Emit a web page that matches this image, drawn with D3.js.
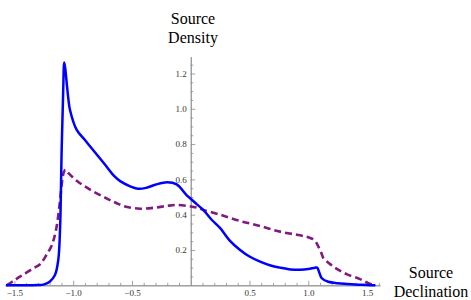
<!DOCTYPE html>
<html>
<head>
<meta charset="utf-8">
<script src="https://cdnjs.cloudflare.com/ajax/libs/d3/7.8.5/d3.min.js"></script>
<style>
  body { margin: 0; background: #fff; }
  svg text { font-family: "Liberation Serif", "Times New Roman", Times, "DejaVu Serif", serif; }
</style>
</head>
<body>
<svg id="drawing_region"></svg>
<script>
// solid blue curve: [declination, density]
const solid_x = [-1.571, -1.40, -1.30, -1.254, -1.20, -1.155, -1.127, -1.112, -1.098, -1.085, -1.076,
    -1.066, -1.055, -1.04, -1.027, -0.97, -0.90, -0.843, -0.78, -0.715, -0.65, -0.60, -0.52, -0.45,
    -0.38, -0.30, -0.20, -0.12, -0.034, 0.0, 0.05, 0.107, 0.18, 0.249, 0.33, 0.42, 0.50, 0.59, 0.68,
    0.76, 0.85, 0.93, 1.00, 1.058, 1.075, 1.095, 1.115, 1.17, 1.25, 1.33, 1.45, 1.571];
const solid_y = [0, 0.0, 0.002, 0.004, 0.02, 0.058, 0.143, 0.313, 0.766, 1.10, 1.262,
    1.22, 1.146, 1.05, 0.993, 0.88, 0.823, 0.776, 0.725, 0.672, 0.618, 0.59, 0.562, 0.547,
    0.552, 0.57, 0.584, 0.572, 0.51, 0.49, 0.46, 0.427, 0.37, 0.325, 0.255, 0.2, 0.163, 0.134, 0.112,
    0.100, 0.090, 0.088, 0.092, 0.10, 0.10, 0.07, 0.04, 0.02, 0.012, 0.008, 0.003, 0];

// dashed purple curve
const dashed_x = [-1.566, -1.50, -1.453, -1.40, -1.34, -1.284, -1.254, -1.225, -1.19, -1.17, -1.15,
    -1.13, -1.11, -1.095, -1.08, -1.066, -1.04, -0.97, -0.90, -0.80, -0.70, -0.63, -0.55, -0.43, -0.30,
    -0.20, -0.12, -0.03, 0.05, 0.107, 0.249, 0.42, 0.59, 0.76, 0.93, 1.00, 1.043, 1.07, 1.086,
    1.11, 1.128, 1.186, 1.25, 1.33, 1.44, 1.50, 1.55, 1.566];
const dashed_y = [0, 0.028, 0.049, 0.07, 0.096, 0.118, 0.143, 0.175, 0.215, 0.25, 0.30,
    0.38, 0.49, 0.585, 0.64, 0.655, 0.635, 0.592, 0.56, 0.521, 0.487, 0.465, 0.445, 0.434, 0.44,
    0.45, 0.455, 0.45, 0.44, 0.427, 0.40, 0.364, 0.336, 0.304, 0.283, 0.272, 0.26, 0.24, 0.219,
    0.185, 0.155, 0.12, 0.09, 0.062, 0.035, 0.015, 0.003, 0];

const x_ticks = [-1.5, -1.0, -0.5, 0.5, 1.0, 1.5];
const y_ticks = [0.2, 0.4, 0.6, 0.8, 1.0, 1.2];

const config = {
    width: 471,
    height: 300,
    xdomain: [-1.58, 1.61],
    ydomain: [0, 1.295],
    xrange: [5, 380],
    yrange: [285.3, 56.7]
};

const serif = '"Liberation Serif", "Times New Roman", Times, "DejaVu Serif", serif';

const svg = d3.select('#drawing_region')
    .attr('width', config.width)
    .attr('height', config.height);

const xscale = d3.scaleLinear().domain(config.xdomain).range(config.xrange);
const yscale = d3.scaleLinear().domain(config.ydomain).range(config.yrange);

const x0 = xscale(0);
const y0 = yscale(0);

// minor ticks
const x_minor = d3.range(-15, 17).map(i => i / 10).filter(v => Math.abs(v * 2 - Math.round(v * 2)) > 1e-6);
const y_minor = d3.range(1, 26).map(i => i / 20).filter(v => Math.abs(v * 5 - Math.round(v * 5)) > 1e-6);

const axis_color = '#8a8a8a';

svg.append('g')
    .attr('transform', `translate(0, ${y0})`)
    .call(d3.axisBottom(xscale).tickValues(x_minor).tickSize(-2.5).tickFormat('').tickSizeOuter(0));

svg.append('g')
    .attr('transform', `translate(0, ${y0})`)
    .call(d3.axisBottom(xscale).tickValues(x_ticks).tickSize(-4.5).tickSizeOuter(0)
        .tickPadding(4).tickFormat(d3.format('.1f')));

svg.append('g')
    .attr('transform', `translate(${x0}, 0)`)
    .call(d3.axisLeft(yscale).tickValues(y_minor).tickSize(-2.5).tickFormat('').tickSizeOuter(0));

svg.append('g')
    .attr('transform', `translate(${x0}, 0)`)
    .call(d3.axisLeft(yscale).tickValues(y_ticks).tickSize(-4.5).tickSizeOuter(0)
        .tickPadding(4).tickFormat(d3.format('.1f')));

svg.selectAll('g').attr('font-family', serif);

svg.selectAll('.domain, .tick line')
    .attr('stroke', axis_color)
    .attr('stroke-width', 0.8);

svg.selectAll('.tick text')
    .attr('fill', '#333')
    .attr('font-size', 9)
    .attr('font-family', serif);

// curves
const line = d3.line()
    .x(d => xscale(d[0]))
    .y(d => yscale(d[1]))
    .curve(d3.curveCatmullRom.alpha(0.5));

svg.append('path')
    .datum(d3.zip(dashed_x, dashed_y))
    .attr('d', line)
    .attr('fill', 'none')
    .attr('stroke', '#801a80')
    .attr('stroke-width', 2.6)
    .attr('stroke-dasharray', '7,4');

svg.append('path')
    .datum(d3.zip(solid_x, solid_y))
    .attr('d', line)
    .attr('fill', 'none')
    .attr('stroke', '#0000ff')
    .attr('stroke-width', 2.5)
    .attr('stroke-linejoin', 'round');

// axis labels
const ylabel = svg.append('text')
    .attr('text-anchor', 'middle')
    .attr('font-family', serif)
    .attr('font-size', 16)
    .attr('fill', '#000');
ylabel.append('tspan').attr('x', 193).attr('y', 24).text('Source');
ylabel.append('tspan').attr('x', 193).attr('y', 43).text('Density');

const xlabel = svg.append('text')
    .attr('text-anchor', 'middle')
    .attr('font-family', serif)
    .attr('font-size', 16)
    .attr('fill', '#000');
xlabel.append('tspan').attr('x', 431).attr('y', 278).text('Source');
xlabel.append('tspan').attr('x', 431).attr('y', 297).text('Declination');
</script>
</body>
</html>
